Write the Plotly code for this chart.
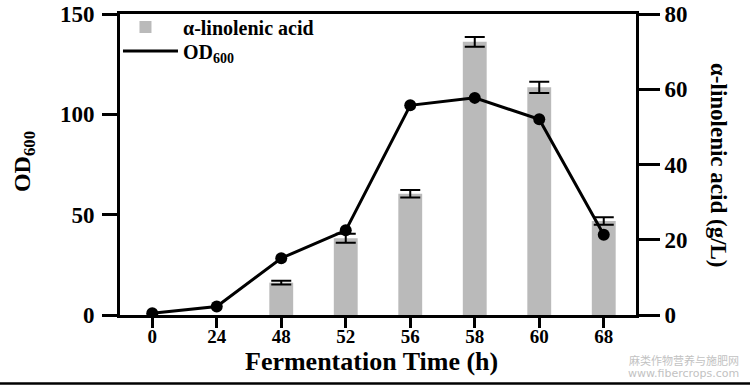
import plotly.graph_objects as go

# ---- data ----
time_labels = ["0", "24", "48", "52", "56", "58", "60", "68"]
od600 = [0.9, 4.2, 28.3, 42.2, 104.5, 108.2, 97.5, 40.0]
ala = [None, None, 8.6, 20.4, 32.2, 72.6, 60.5, 25.0]
ala_err = [None, None, 0.5, 1.2, 1.0, 1.3, 1.5, 1.0]

FONT = "Liberation Serif"
BLACK = "#000000"

fig = go.Figure()

# bars on yaxis (right side, α-linolenic acid)
fig.add_trace(go.Bar(
    x=time_labels, y=ala, name="α-linolenic acid",
    marker=dict(color="#bababa", line=dict(width=0)),
    width=0.37,
    error_y=dict(type="data", array=ala_err, visible=True,
                 color=BLACK, thickness=2, width=10),
    yaxis="y", legend="legend",
))

# line on yaxis2 (left side, OD600) drawn on top
fig.add_trace(go.Scatter(
    x=time_labels, y=od600, name="OD<sub>600</sub>",
    mode="lines+markers",
    line=dict(color=BLACK, width=3),
    marker=dict(color=BLACK, size=12),
    yaxis="y2", showlegend=False,
))
# legend entry for the line (line only, as in the reference)
fig.add_trace(go.Scatter(
    x=[None], y=[None], name="OD<sub>600</sub>", mode="lines",
    line=dict(color=BLACK, width=3), yaxis="y2", legend="legend2",
))

def ax(size):
    return dict(showline=True, linecolor=BLACK, linewidth=3,
                showgrid=False, zeroline=False, ticks="outside",
                tickcolor=BLACK, tickwidth=3, automargin=False,
                tickfont=dict(family=FONT, size=size, color=BLACK, weight="bold"))

legend_font = dict(family=FONT, size=20, color=BLACK, weight="bold")

fig.update_layout(
    width=750, height=385,
    margin=dict(l=120, r=114, t=14, b=70, autoexpand=False),
    paper_bgcolor="white", plot_bgcolor="white",
    showlegend=True,
    xaxis=dict(type="category", categoryorder="array", categoryarray=time_labels,
               range=[-0.5, 7.5], mirror=True, ticklen=10, ticklabelstandoff=-8,
               **ax(19)),
    yaxis=dict(side="right", range=[0, 80], tickvals=[0, 20, 40, 60, 80],
               ticklen=21, **ax(23)),
    yaxis2=dict(side="left", overlaying="y", range=[0, 150],
                tickvals=[0, 50, 100, 150], ticklen=15, ticklabelstandoff=3,
                **ax(23)),
    legend=dict(x=-0.0233, y=0.957, xanchor="left", yanchor="middle",
                bgcolor="rgba(0,0,0,0)", itemwidth=65, font=legend_font),
    legend2=dict(x=-0.0039, y=0.877, xanchor="left", yanchor="middle",
                 bgcolor="rgba(0,0,0,0)", itemwidth=55, font=legend_font),
    annotations=[
        dict(text="OD<sub>600</sub>", xref="paper", yref="paper",
             x=-0.186, y=0.508, textangle=-90, showarrow=False,
             xanchor="center", yanchor="middle",
             font=dict(family=FONT, size=24, color=BLACK, weight="bold")),
        dict(text="α-linolenic acid (g/L)", xref="paper", yref="paper",
             x=1.161, y=0.498, textangle=90, showarrow=False,
             xanchor="center", yanchor="middle",
             font=dict(family=FONT, size=23, color=BLACK, weight="bold")),
        dict(text="Fermentation Time (h)", xref="paper", yref="paper",
             x=0.488, y=-0.153, showarrow=False,
             xanchor="center", yanchor="middle",
             font=dict(family=FONT, size=26, color=BLACK, weight="bold")),
        dict(text="麻类作物营养与施肥网", xref="paper", yref="paper",
             x=1.2035, y=-0.151, showarrow=False, xanchor="right", yanchor="middle",
             font=dict(family="Noto Sans CJK SC", size=11, color="#c2c2c2")),
        dict(text="www.fibercrops.com", xref="paper", yref="paper",
             x=1.2035, y=-0.196, showarrow=False, xanchor="right", yanchor="middle",
             font=dict(family="DejaVu Sans", size=11, color="#c2c2c2")),
    ],
    shapes=[
        dict(type="line", xref="paper", yref="paper",
             x0=-0.2326, x1=1.221, y0=-0.2276, y1=-0.2276,
             line=dict(color=BLACK, width=2.5)),
    ],
)

fig.write_html("out.html",
               config={"displayModeBar": False},
               post_script="document.body.style.margin='0';document.body.style.overflow='hidden';")
